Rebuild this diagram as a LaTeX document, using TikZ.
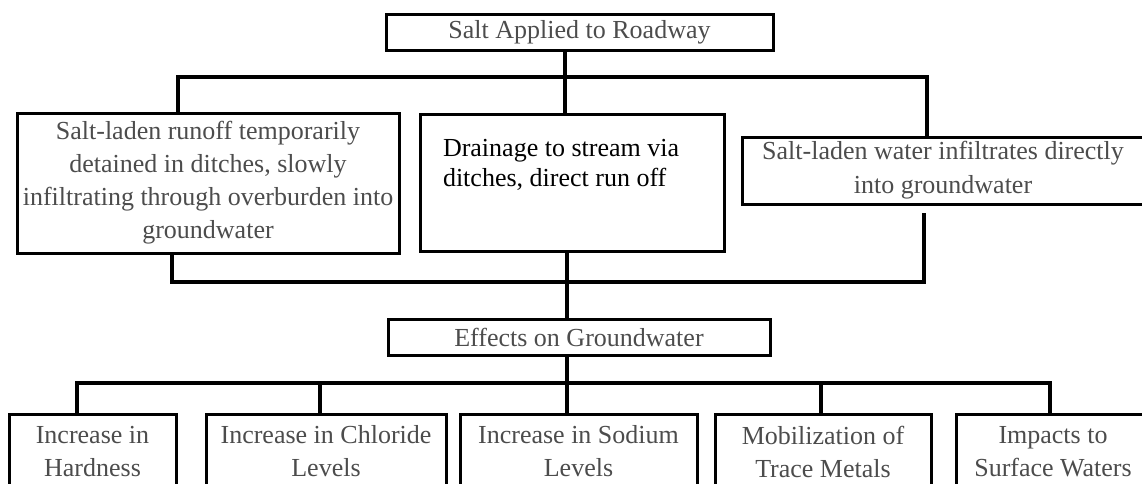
\documentclass[tikz,border=0pt]{standalone}
\usepackage{fontspec}
\setmainfont{Liberation Serif}
\usetikzlibrary{positioning}

\begin{document}
\begin{tikzpicture}[
  x=1pt, y=-1pt,
  every node/.style={draw, line width=3pt, inner sep=2pt, outer sep=0pt,
    align=center, text=black!70, font={\fontsize{26pt}{33pt}\selectfont}},
  leaf/.style={minimum height=75pt},
  link/.style={line width=3.5pt}
]
\useasboundingbox (0,0) rectangle (1142,483);
\clip (0,0) rectangle (1142,483);

% boxes
\node[minimum width=387pt, minimum height=36pt] (title) at (579.5,32) {Salt Applied to Roadway};
\node[minimum width=382pt, minimum height=140pt] (runoff) at (208,183)
  {Salt-laden runoff temporarily\\detained in ditches, slowly\\infiltrating through overburden into\\groundwater};
\node[right=21pt of runoff, inner xsep=23pt, inner ysep=21pt, text=black,
  font={\fontsize{26pt}{30pt}\selectfont}] (drain)
  {\parbox[c][95pt][t]{258pt}{\raggedright\vspace*{4pt}Drainage to stream via\\ditches, direct run off}};
\node[minimum width=402pt, minimum height=67pt, font={\fontsize{26pt}{34pt}\selectfont}] (direct) at (943,170.5)
  {Salt-laden water infiltrates directly\\into groundwater};
\node[minimum width=382pt, minimum height=36pt] (effects) at (579,337) {Effects on Groundwater};
\node[leaf, minimum width=167pt] (hard) at (92.5,451.5) {Increase in\\Hardness};
\node[leaf, minimum width=240pt, right=30pt of hard] (chlor) {Increase in Chloride\\Levels};
\node[leaf, minimum width=237pt, right=14pt of chlor] (sodium) {Increase in Sodium\\Levels};
\node[leaf, minimum width=216pt, right=18pt of sodium] (metals) {Mobilization of\\Trace Metals};
\node[leaf, minimum width=194pt, right=25pt of metals] (surface) {Impacts to\\Surface Waters};

% bus points
\coordinate (splitA) at (178,77);
\coordinate (splitB) at (565,77);
\coordinate (splitC) at (927,77);
\coordinate (joinA) at (172,282);
\coordinate (joinB) at (567,282);
\coordinate (joinC) at (924,282);
\coordinate (fanA) at (77,383);
\coordinate (fanB) at (320,383);
\coordinate (fanC) at (567,383);
\coordinate (fanD) at (821,383);
\coordinate (fanE) at (1050,383);

\draw[link] (title.south -| splitB) -- (splitB);
\draw[link] (runoff.north -| splitA) |- (splitC) -- (direct.north -| splitC);
\draw[link] (splitB) -- (drain.north -| splitB);
\draw[link, shorten >=9pt] (runoff.south -| joinA) |- (joinC) -- (direct.south -| joinC);
\draw[link] (drain.south -| joinB) -- (effects.north -| joinB);
\draw[link] (effects.south -| fanC) -- (fanC);
\draw[link] (hard.north -| fanA) |- (fanE) -- (surface.north -| fanE);
\draw[link] (fanB) -- (chlor.north -| fanB);
\draw[link] (fanC) -- (sodium.north -| fanC);
\draw[link] (fanD) -- (metals.north -| fanD);
\end{tikzpicture}
\end{document}
